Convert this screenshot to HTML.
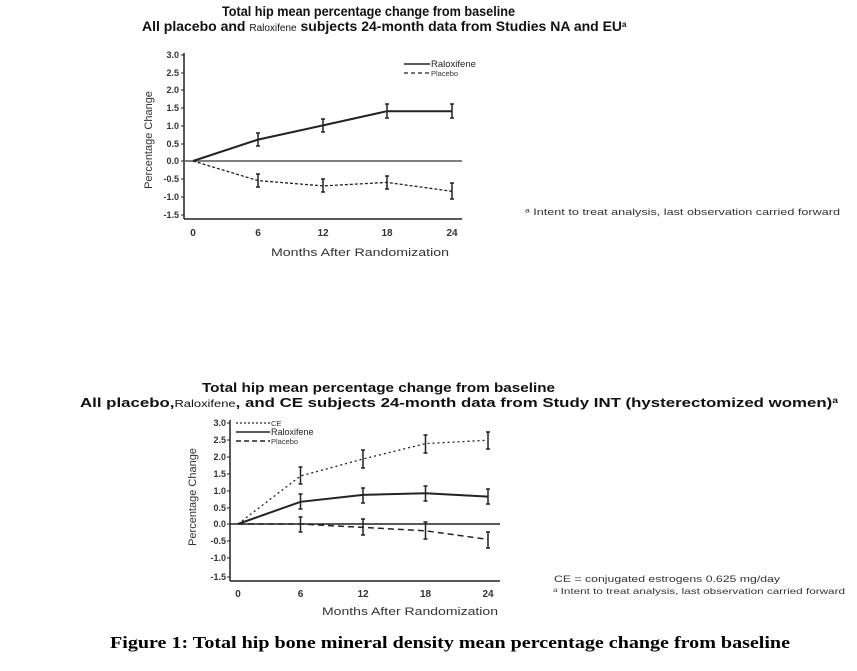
<!DOCTYPE html>
<html><head><meta charset="utf-8"><style>
body{margin:0;background:#fff;width:857px;height:671px;overflow:hidden}
svg{display:block}
</style></head><body>
<svg width="857" height="671" viewBox="0 0 857 671" xmlns="http://www.w3.org/2000/svg" font-family="Liberation Sans, Arial, sans-serif">
<text x="222" y="16" font-size="14" font-weight="bold" fill="#111" textLength="293" lengthAdjust="spacingAndGlyphs">Total hip mean percentage change from baseline</text>
<text x="142" y="31" font-size="14" font-weight="bold" fill="#111">All placebo and <tspan font-size="10" font-weight="normal">Raloxifene</tspan> subjects 24-month data from Studies NA and EU<tspan font-size="8" dy="-4">a</tspan></text>

<g stroke="#222" fill="none">
<line x1="184" y1="53" x2="184" y2="219" stroke-width="1.5"/>
<line x1="184" y1="219" x2="462" y2="219" stroke-width="1.5"/>
<line x1="184" y1="161" x2="462" y2="161" stroke-width="1.5" stroke="#555"/>
<g stroke-width="1">
<line x1="181" y1="55" x2="184" y2="55"/><line x1="181" y1="73" x2="184" y2="73"/><line x1="181" y1="90" x2="184" y2="90"/><line x1="181" y1="108" x2="184" y2="108"/><line x1="181" y1="126" x2="184" y2="126"/><line x1="181" y1="144" x2="184" y2="144"/><line x1="181" y1="161" x2="184" y2="161"/><line x1="181" y1="179" x2="184" y2="179"/><line x1="181" y1="197" x2="184" y2="197"/><line x1="181" y1="215" x2="184" y2="215"/>
</g>
<polyline points="193,161 258,139.6 323,125.4 387,111.2 452,111.2" stroke-width="2"/>
<polyline points="193,161 258,180.6 323,185.9 387,182.4 452,191.3" stroke-width="1.3" stroke-dasharray="3,2"/>
<g stroke-width="1.5">
<path d="M258,133v13M256,133h4M256,146h4"/><path d="M323,119v13M321,119h4M321,132h4"/><path d="M387,104v14M385,104h4M385,118h4"/><path d="M452,104v14M450,104h4M450,118h4"/>
<path d="M258,174v13M256,174h4M256,187h4"/><path d="M323,179v13M321,179h4M321,192h4"/><path d="M387,176v13M385,176h4M385,189h4"/><path d="M452,183v16M450,183h4M450,199h4"/>
</g>
<line x1="404" y1="64" x2="430" y2="64" stroke-width="1.5"/>
<line x1="404" y1="73" x2="430" y2="73" stroke-width="1.3" stroke-dasharray="4,3"/>
</g>
<g font-size="9" font-weight="bold" fill="#333" text-anchor="end">
<text x="179" y="58">3.0</text><text x="179" y="76">2.5</text><text x="179" y="93">2.0</text><text x="179" y="111">1.5</text><text x="179" y="129">1.0</text><text x="179" y="147">0.5</text><text x="179" y="164">0.0</text><text x="179" y="182">-0.5</text><text x="179" y="200">-1.0</text><text x="179" y="218">-1.5</text>
</g>
<g font-size="10" font-weight="bold" fill="#333" text-anchor="middle">
<text x="193" y="236">0</text><text x="258" y="236">6</text><text x="323" y="236">12</text><text x="387" y="236">18</text><text x="452" y="236">24</text>
</g>
<text x="271" y="256" font-size="11" fill="#333" textLength="178" lengthAdjust="spacingAndGlyphs">Months After Randomization</text>
<text transform="translate(152,140) rotate(-90)" font-size="11" fill="#333" text-anchor="middle">Percentage Change</text>
<text x="431" y="67" font-size="9.5" fill="#222">Raloxifene</text>
<text x="431" y="76" font-size="7.5" fill="#333">Placebo</text>
<text x="525" y="215" font-size="9.5" fill="#333" textLength="315" lengthAdjust="spacingAndGlyphs">ᵃ  Intent to treat analysis, last observation carried forward</text>

<text x="202" y="392" font-size="13" font-weight="bold" fill="#111" textLength="353" lengthAdjust="spacingAndGlyphs">Total hip mean percentage change from baseline</text>
<text x="80" y="407" font-size="13" font-weight="bold" fill="#111" textLength="758" lengthAdjust="spacingAndGlyphs">All placebo,<tspan font-size="10" font-weight="normal">Raloxifene</tspan>, and CE subjects 24-month data from Study INT (hysterectomized women)<tspan font-size="8" dy="-4">a</tspan></text>

<g stroke="#222" fill="none">
<line x1="230" y1="420" x2="230" y2="581" stroke-width="1.5"/>
<line x1="230" y1="581" x2="500" y2="581" stroke-width="1.5"/>
<line x1="230" y1="524" x2="500" y2="524" stroke-width="1.5"/>
<g stroke-width="1">
<line x1="227" y1="423" x2="230" y2="423"/><line x1="227" y1="440" x2="230" y2="440"/><line x1="227" y1="457" x2="230" y2="457"/><line x1="227" y1="474" x2="230" y2="474"/><line x1="227" y1="491" x2="230" y2="491"/><line x1="227" y1="508" x2="230" y2="508"/><line x1="227" y1="524" x2="230" y2="524"/><line x1="227" y1="541" x2="230" y2="541"/><line x1="227" y1="558" x2="230" y2="558"/><line x1="227" y1="577" x2="230" y2="577"/>
</g>
<polyline points="238,524 300.5,476 363,459 425.5,443.6 488,440.2" stroke-width="1.3" stroke-dasharray="2,3"/>
<polyline points="238,524 300.5,501.8 363,494.9 425.5,493.2 488,496.6" stroke-width="2"/>
<polyline points="238,524 300.5,524 363,527.4 425.5,530.8 488,539.4" stroke-width="1.5" stroke-dasharray="6,4"/>
<g stroke-width="1.5">
<path d="M300.5,467v17M298.5,467h4M298.5,484h4"/><path d="M363,450v18M361,450h4M361,468h4"/><path d="M425.5,435v18M423.5,435h4M423.5,453h4"/><path d="M488,432v17M486,432h4M486,449h4"/>
<path d="M300.5,494v15M298.5,494h4M298.5,509h4"/><path d="M363,488v15M361,488h4M361,503h4"/><path d="M425.5,486v15M423.5,486h4M423.5,501h4"/><path d="M488,489v15M486,489h4M486,504h4"/>
<path d="M300.5,517v15M298.5,517h4M298.5,532h4"/><path d="M363,519v16M361,519h4M361,535h4"/><path d="M425.5,522v17M423.5,522h4M423.5,539h4"/><path d="M488,532v16M486,532h4M486,548h4"/>
</g>
<line x1="236" y1="423" x2="270" y2="423" stroke-width="1.3" stroke-dasharray="2,2"/>
<line x1="236" y1="432" x2="270" y2="432" stroke-width="1.5"/>
<line x1="236" y1="441" x2="270" y2="441" stroke-width="1.5" stroke-dasharray="5,3"/>
</g>
<g font-size="9" font-weight="bold" fill="#333" text-anchor="end">
<text x="226" y="426">3.0</text><text x="226" y="443">2.5</text><text x="226" y="460">2.0</text><text x="226" y="477">1.5</text><text x="226" y="494">1.0</text><text x="226" y="511">0.5</text><text x="226" y="527">0.0</text><text x="226" y="544">-0.5</text><text x="226" y="561">-1.0</text><text x="226" y="580">-1.5</text>
</g>
<g font-size="10" font-weight="bold" fill="#333" text-anchor="middle">
<text x="238" y="597">0</text><text x="300.5" y="597">6</text><text x="363" y="597">12</text><text x="425.5" y="597">18</text><text x="488" y="597">24</text>
</g>
<text x="322" y="615" font-size="11" fill="#333" textLength="176" lengthAdjust="spacingAndGlyphs">Months After Randomization</text>
<text transform="translate(196,497) rotate(-90)" font-size="11" fill="#333" text-anchor="middle">Percentage Change</text>
<text x="271" y="426" font-size="7.5" fill="#333">CE</text>
<text x="271" y="435" font-size="9" fill="#222">Raloxifene</text>
<text x="271" y="444" font-size="7.5" fill="#333">Placebo</text>
<text x="554" y="582" font-size="9" fill="#333" textLength="226" lengthAdjust="spacingAndGlyphs">CE = conjugated estrogens 0.625 mg/day</text>
<text x="553" y="594" font-size="8.5" fill="#333" textLength="292" lengthAdjust="spacingAndGlyphs">ᵃ  Intent to treat analysis, last observation carried forward</text>

<text x="110" y="648" font-family="Liberation Serif, serif" font-size="17" font-weight="bold" fill="#000" textLength="680" lengthAdjust="spacingAndGlyphs">Figure 1: Total hip bone mineral density mean percentage change from baseline</text>
</svg>
</body></html>
